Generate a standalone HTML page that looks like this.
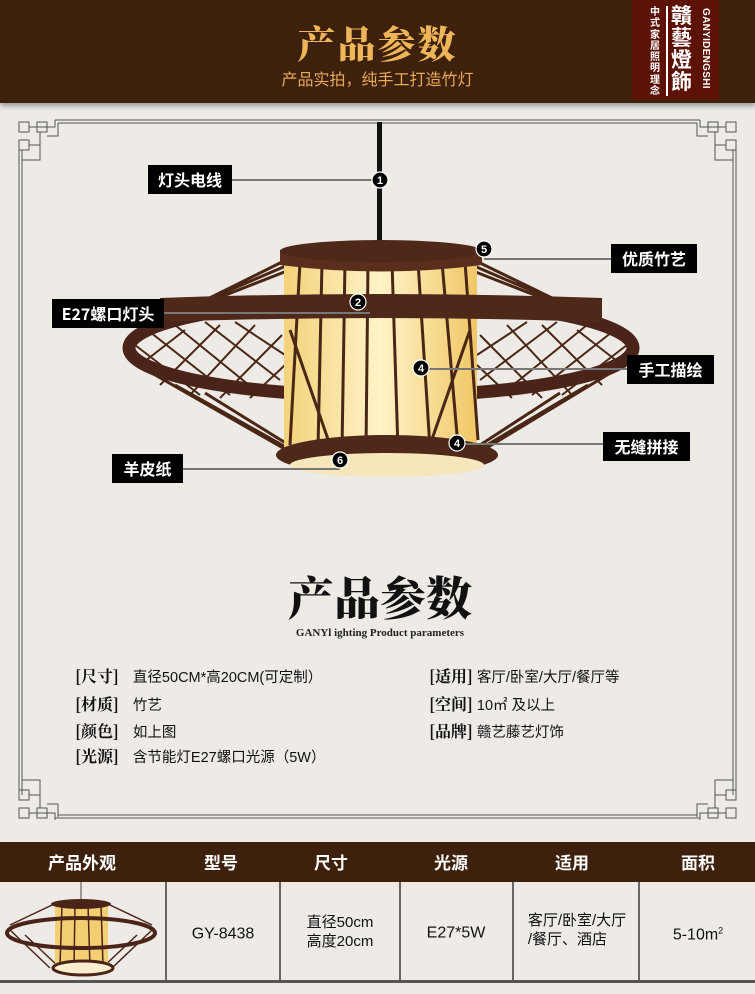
<!DOCTYPE html>
<html><head><meta charset="utf-8">
<style>
html,body{margin:0;padding:0;}
body{width:755px;height:994px;position:relative;overflow:hidden;background:#eeebe6;font-family:"Liberation Sans","Noto Sans CJK SC",sans-serif;}
.abs{position:absolute;}
.hdr{left:0;top:0;width:755px;height:103px;background:#3e210c;box-shadow:0 3px 5px rgba(0,0,0,.35);}
.lbl{position:absolute;background:#000;color:#fff;font-weight:bold;font-size:16px;text-align:center;font-family:"Noto Sans CJK SC",sans-serif;}
.sp{position:absolute;font-size:14.5px;color:#111;font-family:"Liberation Sans","Noto Sans CJK SC",sans-serif;white-space:nowrap;}
.sp b{font-family:"Noto Serif CJK SC",serif;font-size:16px;margin-right:10px;}
.th{position:absolute;top:842px;color:#fff;font-size:17px;font-weight:bold;transform:translateX(-50%);line-height:40px;font-family:"Noto Sans CJK SC",sans-serif;}
.td{position:absolute;font-size:15px;color:#111;transform:translate(-50%,-50%);text-align:left;line-height:19px;white-space:nowrap;}
</style></head><body>
<div class="abs hdr"></div>
<div class="abs" style="left:0;top:14px;width:755px;text-align:center;color:#efb559;font-size:38px;font-weight:900;font-family:'Noto Serif CJK SC',serif;letter-spacing:2px;">产品参数</div>
<div class="abs" style="left:0;top:66px;width:755px;text-align:center;color:#e7a95a;font-size:16px;font-family:'Noto Sans CJK SC',sans-serif;">产品实拍，纯手工打造竹灯</div>
<div class="abs" style="left:632px;top:0;width:87px;height:100px;background:#5d1206;"></div>
<div class="abs" style="left:650px;top:5px;width:11px;color:#fff;font-size:10px;line-height:11.3px;font-weight:bold;font-family:'Noto Sans CJK SC',sans-serif;">中式家居照明理念</div>
<div class="abs" style="left:666px;top:6px;width:2px;height:90px;background:#fff;"></div>
<div class="abs" style="left:671px;top:4px;width:22px;color:#fff;font-size:21px;line-height:22px;font-weight:bold;font-family:'Noto Sans CJK TC',sans-serif;">贛藝燈飾</div>
<div class="abs" style="left:700px;top:8px;writing-mode:vertical-rl;color:#fff;font-size:10px;font-weight:bold;letter-spacing:.3px;">GANYIDENGSHI</div>

<svg class="abs" style="left:0;top:0" width="755" height="994">
 <g fill="none" stroke="#555" stroke-width="1">
  <path d="M55 120 H700 M58 123 H697"/>
  <path d="M19 150 V795 M22 150 V795"/>
  <path d="M733 150 V795 M736 150 V795"/>
  <path d="M55 818 H700 M58 815 H697"/>
  <g id="c"><rect x="19" y="122" width="10" height="10"/><rect x="37" y="122" width="10" height="10"/><rect x="19" y="140" width="10" height="10"/><path d="M29 127 H55 V120 M29 145 H40 V160 H22 M40 132 V150 M47 136 H58 V123"/></g>
  <use href="#c" transform="translate(755,0) scale(-1,1)"/>
  <use href="#c" transform="translate(0,940) scale(1,-1)"/>
  <use href="#c" transform="translate(755,940) scale(-1,-1)"/>
 </g>
 <rect x="377" y="122" width="5" height="125" fill="#111"/>
 <defs>
  <linearGradient id="cy" x1="0" x2="1"><stop offset="0" stop-color="#f3d27a"/><stop offset=".5" stop-color="#fff3c8"/><stop offset="1" stop-color="#f0c765"/></linearGradient>
 </defs>
 <!-- upper slanted bars -->
 <g stroke="#4a2616" stroke-width="3">
  <path d="M282 262 L135 335 M295 262 L165 318 M310 262 L200 305 M478 262 L628 335 M465 262 L595 318 M450 262 L560 305"/>
 </g>
 <!-- side lattice -->
 <g stroke="#4a2616" stroke-width="2">
  <path d="M135 345 L200 395 M150 332 L230 395 M175 325 L255 390 M205 322 L280 380 M235 322 L285 355 M140 365 L185 330 M160 385 L220 325 M190 395 L255 325 M220 398 L282 335 M250 398 L285 365"/>
  <path d="M627 345 L562 395 M612 332 L532 395 M587 325 L507 390 M557 322 L480 380 M527 322 L477 355 M622 365 L577 330 M602 385 L542 325 M572 395 L507 325 M542 398 L480 335 M512 398 L477 365"/>
 </g>
 <!-- widest ring -->
 <ellipse cx="381" cy="348" rx="252" ry="48" fill="none" stroke="#4a2418" stroke-width="13"/>
 <!-- lower bars -->
 <g stroke="#4a2616" stroke-width="3">
  <path d="M150 372 L290 452 M175 385 L300 455 M205 393 L310 458 M612 372 L480 452 M588 385 L470 455 M560 393 L460 458"/>
 </g>
 <!-- cylinder -->
 <rect x="284" y="257" width="193" height="190" fill="url(#cy)"/>
 <g stroke="#4a2616" stroke-width="3">
  <path d="M300 262 L290 445 M322 262 L318 448 M345 262 L342 450 M368 262 L366 450 M392 262 L398 450 M418 262 L430 448 M442 262 L458 446 M465 262 L478 440"/>
  <path d="M290 330 L330 445 M470 330 L430 445"/>
 </g>
 <!-- band (back of ring) -->
 <path d="M160 298 Q381 290 602 298 L602 322 Q381 314 160 322 Z" fill="#4e2819"/>
 <!-- top ring -->
 <path d="M280 250 L280 265 Q381 278 482 265 L482 250 Z" fill="#5a2e1c"/>
 <ellipse cx="381" cy="251" rx="101" ry="11" fill="#4e2819"/>
 <!-- bottom ring -->
 <ellipse cx="387" cy="455" rx="111" ry="20" fill="#4e2819"/>
 <ellipse cx="387" cy="465" rx="97" ry="12" fill="#f6e6bc"/>
 <g stroke="#777" stroke-width="2">
  <path d="M232 180 H380 M164 313 H370 M484 259 H611 M421 369 H627 M457 444 H603 M183 469 H340"/>
 </g>
 <g fill="#000" stroke="#fff" stroke-width="1.2">
  <circle cx="380" cy="180" r="8"/><circle cx="358" cy="302" r="8"/><circle cx="484" cy="249" r="8"/>
  <circle cx="421" cy="368" r="8"/><circle cx="457" cy="443" r="8"/><circle cx="340" cy="460" r="8"/>
 </g>
 <g fill="#fff" font-size="11" font-weight="bold" text-anchor="middle" font-family="Liberation Sans">
  <text x="380" y="184">1</text><text x="358" y="306">2</text><text x="484" y="253">5</text>
  <text x="421" y="372">4</text><text x="457" y="447">4</text><text x="340" y="464">6</text>
 </g>
 <!-- table -->
 <rect x="0" y="842" width="755" height="40" fill="#3e210c"/>
 <rect x="0" y="980" width="755" height="3" fill="#555"/>
 <g stroke="#666" stroke-width="2"><path d="M166 882 V980 M280 882 V980 M400 882 V980 M513 882 V980 M639 882 V980"/></g>
 <line x1="81" y1="882" x2="81" y2="902" stroke="#444"/>
 <g stroke="#4a2418" stroke-width="1.5"><path d="M52 905 L10 925 M110 905 L152 925 M10 930 L50 968 M25 935 L60 968 M152 930 L112 968 M137 935 L102 968"/></g>
 <rect x="55" y="905" width="53" height="62" fill="#f2cf73"/>
 <g stroke="#4a2418" stroke-width="1.5"><path d="M62 905 L60 965 M75 905 L74 967 M88 905 L90 967 M101 905 L103 965"/></g>
 <ellipse cx="81" cy="933" rx="74" ry="15" fill="none" stroke="#4a2418" stroke-width="4"/>
 <ellipse cx="81" cy="904" rx="30" ry="5" fill="#4a2418"/>
 <ellipse cx="83" cy="968" rx="30" ry="7" fill="#fcefcf" stroke="#4a2418" stroke-width="3"/>
</svg>

<div class="lbl" style="left:148px;top:165px;width:84px;height:29px;line-height:29px;">灯头电线</div>
<div class="lbl" style="left:52px;top:299px;width:112px;height:29px;line-height:29px;">E27螺口灯头</div>
<div class="lbl" style="left:611px;top:244px;width:86px;height:29px;line-height:29px;">优质竹艺</div>
<div class="lbl" style="left:627px;top:355px;width:87px;height:29px;line-height:29px;">手工描绘</div>
<div class="lbl" style="left:603px;top:432px;width:87px;height:29px;line-height:29px;">无缝拼接</div>
<div class="lbl" style="left:112px;top:454px;width:71px;height:29px;line-height:29px;">羊皮纸</div>

<div class="abs" style="left:0;top:566px;width:760px;text-align:center;font-size:46px;font-weight:900;font-family:'Noto Serif CJK SC',serif;color:#111;line-height:60px;">产品参数</div>
<div class="abs" style="left:0;top:627px;width:760px;text-align:center;font-size:11px;font-weight:bold;font-family:'Liberation Serif',serif;color:#222;">GANYl ighting Product parameters</div>

<div class="sp" style="left:75px;top:664px;"><b>[尺寸]</b> 直径50CM*高20CM(可定制）</div>
<div class="sp" style="left:75px;top:692px;"><b>[材质]</b> 竹艺</div>
<div class="sp" style="left:75px;top:719px;"><b>[颜色]</b> 如上图</div>
<div class="sp" style="left:75px;top:744px;"><b>[光源]</b> 含节能灯E27螺口光源（5W）</div>
<div class="sp" style="left:429px;top:664px;"><b style="margin-right:4px">[适用]</b>客厅/卧室/大厅/餐厅等</div>
<div class="sp" style="left:429px;top:692px;"><b style="margin-right:4px">[空间]</b>10㎡ 及以上</div>
<div class="sp" style="left:429px;top:719px;"><b style="margin-right:4px">[品牌]</b>赣艺藤艺灯饰</div>

<div class="th" style="left:82px;">产品外观</div>
<div class="th" style="left:221px;">型号</div>
<div class="th" style="left:331px;">尺寸</div>
<div class="th" style="left:451px;">光源</div>
<div class="th" style="left:572px;">适用</div>
<div class="th" style="left:698px;">面积</div>
<div class="td" style="left:223px;top:934px;font-size:16px;">GY-8438</div>
<div class="td" style="left:340px;top:932px;">直径50cm<br>高度20cm</div>
<div class="td" style="left:456px;top:933px;font-size:16px;">E27*5W</div>
<div class="td" style="left:577px;top:930px;">客厅/卧室/大厅<br>/餐厅、酒店</div>
<div class="td" style="left:698px;top:933px;font-size:16px;">5-10m<sup style="font-size:9px">2</sup></div>
</body></html>
